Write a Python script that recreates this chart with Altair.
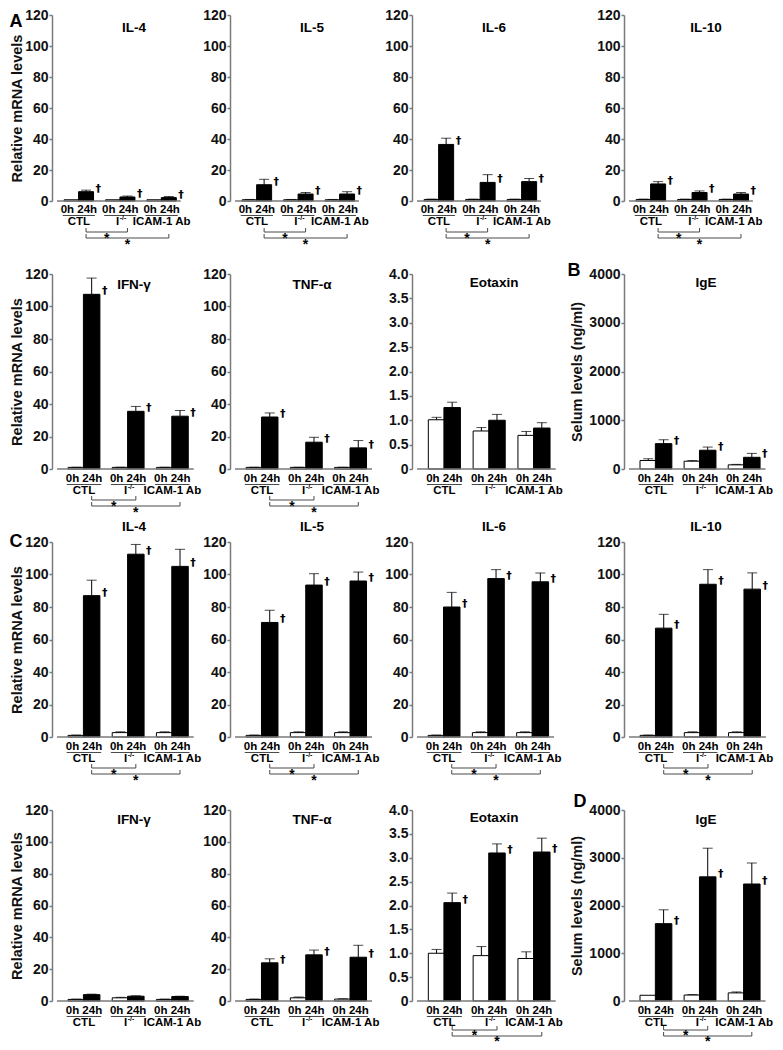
import altair as alt
import pandas as pd

FONT = "Liberation Sans, Arial, sans-serif"
DFONT = "DejaVu Sans, Liberation Sans, sans-serif"
GROUPS = ["CTL", "I", "ICAM-1 Ab"]
TIMES = ["0h", "24h"]

# ---- values (mean = m, top of error bar = t) ----
A_IL4 = dict(m0=[0.8, 0.8, 0.8], t0=[0.8, 0.8, 0.8], m24=[6.0, 2.6, 2.2], t24=[7.0, 3.2, 2.9])
A_IL5 = dict(m0=[0.8, 0.8, 0.8], t0=[1.0, 1.0, 1.0], m24=[10.5, 4.5, 4.5], t24=[14.0, 5.5, 6.0])
A_IL6 = dict(m0=[1.0, 1.0, 1.0], t0=[1.2, 1.2, 1.2], m24=[36.5, 12.0, 12.5], t24=[40.5, 17.0, 14.5])
A_IL10 = dict(m0=[1.0, 1.0, 1.0], t0=[1.2, 1.2, 1.2], m24=[11.0, 5.5, 4.5], t24=[12.5, 6.5, 5.5])
A_IFN = dict(m0=[1.0, 1.0, 1.0], t0=[1.1, 1.1, 1.1], m24=[107.5, 35.5, 32.5], t24=[117.5, 38.5, 36.0])
A_TNF = dict(m0=[1.0, 1.0, 1.0], t0=[1.1, 1.1, 1.1], m24=[32.0, 16.5, 13.0], t24=[34.5, 19.5, 17.5])
A_EOT = dict(m0=[1.01, 0.78, 0.69], t0=[1.06, 0.85, 0.77], m24=[1.26, 1.00, 0.84], t24=[1.37, 1.12, 0.95])
B_IGE = dict(m0=[175, 160, 85], t0=[210, 175, 95], m24=[520, 385, 240], t24=[600, 450, 320])
C_IL4 = dict(m0=[1.0, 2.7, 2.7], t0=[1.2, 3.2, 3.2], m24=[87.0, 112.5, 105.0], t24=[96.5, 118.5, 115.5])
C_IL5 = dict(m0=[1.0, 2.7, 2.7], t0=[1.2, 3.2, 3.2], m24=[70.5, 93.5, 96.0], t24=[78.0, 100.5, 101.5])
C_IL6 = dict(m0=[1.0, 2.7, 2.7], t0=[1.2, 3.2, 3.2], m24=[80.0, 97.5, 95.5], t24=[89.0, 103.0, 101.0])
C_IL10 = dict(m0=[1.0, 2.7, 2.7], t0=[1.2, 3.2, 3.2], m24=[67.0, 94.0, 91.0], t24=[75.5, 103.0, 101.0])
C_IFN = dict(m0=[1.0, 2.0, 1.0], t0=[1.2, 2.3, 1.2], m24=[4.0, 3.0, 2.8], t24=[4.3, 3.3, 3.0])
C_TNF = dict(m0=[1.0, 2.0, 1.2], t0=[1.2, 2.5, 1.4], m24=[24.0, 29.0, 27.5], t24=[26.5, 32.0, 35.0])
C_EOT = dict(m0=[1.00, 0.95, 0.89], t0=[1.08, 1.14, 1.03], m24=[2.06, 3.10, 3.12], t24=[2.26, 3.29, 3.41])
D_IGE = dict(m0=[120, 125, 170], t0=[120, 135, 190], m24=[1620, 2600, 2450], t24=[1910, 3200, 2890])

MRNA_TICKS = [0, 20, 40, 60, 80, 100, 120]
EOT_TICKS = [0, 0.5, 1.0, 1.5, 2.0, 2.5, 3.0, 3.5, 4.0]
IGE_TICKS = [0, 1000, 2000, 3000, 4000]

AXIS_GRAY = "#7a7a7a"
LINE_GRAY = "#4a4a4a"


def one(**kw):
    return pd.DataFrame([kw])


def make_panel(vals, title, kind, W, H, small, ytitle=None, letter=None,
               title_y=12, dagger=True, brackets=False, bk=(31, 37, 11)):
    if small:
        ppu, off, barw, axlen, lab = 44.5, 23.5, 15, 133, (9, 14.5, 21)
    else:
        ppu, off, barw, axlen, lab = 47.5, 29, 16.5, 147, (10, 15.5, 22)
    d = 0.174
    x0 = -off / ppu
    x1 = (W - off) / ppu
    xs = alt.Scale(domain=[x0, x1], nice=False, zero=False)
    if kind == "mrna":
        ymax, ticks = 120, MRNA_TICKS
        ax = dict(values=ticks, format="d")
        tx = -35
    elif kind == "eot":
        ymax, ticks = 4.0, EOT_TICKS
        ax = dict(values=ticks, labelExpr="datum.value == 0 ? '0' : format(datum.value, '.1f')")
        tx = -35
    else:
        ymax, ticks = 4000, IGE_TICKS
        ax = dict(values=ticks, format="d")
        tx = -47
    ys = alt.Scale(domain=[0, ymax], nice=False, zero=True)
    if ytitle:
        ax.update(title=ytitle, titleX=tx, titleY=H / 2, titleAngle=270,
                  titleBaseline="middle", titleAlign="center")
    else:
        ax.update(title=None)
    yaxis = alt.Axis(**ax)

    def Y(field):
        return alt.Y(field, scale=ys, axis=yaxis)

    rows = []
    for g in range(3):
        rows.append(dict(x=g - d, v=vals["m0"][g], e=vals["t0"][g], t=TIMES[0]))
        rows.append(dict(x=g + d, v=vals["m24"][g], e=vals["t24"][g], t=TIMES[1]))
    df = pd.DataFrame(rows)
    X = alt.X("x:Q", scale=xs, axis=None)

    layers = []
    # bars
    layers.append(
        alt.Chart(df).mark_bar(size=barw, stroke="black", strokeWidth=1, orient="vertical")
        .encode(x=X, y=Y("v:Q"),
                color=alt.Color("t:N", scale=alt.Scale(domain=TIMES, range=["white", "black"]), legend=None))
    )
    # x axis baseline
    layers.append(
        alt.Chart(one(a=x0, b=x0 + axlen / ppu, z=0)).mark_rule(color=AXIS_GRAY, strokeWidth=1.5)
        .encode(x=alt.X("a:Q", scale=xs, axis=None), x2="b:Q", y=Y("z:Q"))
    )
    err = df[df.e > df.v]
    layers.append(
        alt.Chart(err).mark_rule(color="black", strokeWidth=1)
        .encode(x=X, y=Y("v:Q"), y2="e:Q")
    )
    layers.append(
        alt.Chart(err).mark_tick(orient="horizontal", size=10, thickness=1, color="black")
        .encode(x=X, y=Y("e:Q"))
    )
    if dagger:
        dg = df[df.t == "24h"].copy()
        dg["s"] = "\u2020"
        layers.append(
            alt.Chart(dg).mark_text(align="left", baseline="middle", dx=barw / 2 + 2, dy=-3,
                                    fontSize=11, fontWeight="bold", font=DFONT, color="black")
            .encode(x=X, y=Y("v:Q"), text="s:N")
        )
    # "0h 24h" labels, underline, group labels
    gdf = pd.DataFrame(dict(g=[0, 1, 2], lab=["0h 24h"] * 3, a=[-0.39, 0.61, 1.61], b=[0.39, 1.39, 2.39]))
    G = alt.X("g:Q", scale=xs, axis=None)
    layers.append(
        alt.Chart(gdf).mark_text(baseline="middle", fontSize=11.5, fontWeight="bold", font=FONT, color="black")
        .encode(x=G, y=alt.value(H + lab[0]), text="lab:N")
    )
    layers.append(
        alt.Chart(gdf).mark_rule(color=LINE_GRAY, strokeWidth=1)
        .encode(x=alt.X("a:Q", scale=xs, axis=None), x2="b:Q", y=alt.value(H + lab[1]))
    )
    glab = pd.DataFrame(dict(g=[0, 2], lab=[GROUPS[0], GROUPS[2]]))
    layers.append(
        alt.Chart(glab).mark_text(baseline="middle", fontSize=11.5, fontWeight="bold", font=FONT, color="black")
        .encode(x=G, y=alt.value(H + lab[2]), text="lab:N")
    )
    ilab = pd.DataFrame(dict(g=[1], lab=[GROUPS[1]], sup=["-/-"]))
    layers.append(
        alt.Chart(ilab).mark_text(align="right", baseline="middle", dx=-1, fontSize=11.5, fontWeight="bold",
                                  font=FONT, color="black")
        .encode(x=G, y=alt.value(H + lab[2]), text="lab:N")
    )
    layers.append(
        alt.Chart(ilab).mark_text(align="left", baseline="middle", dx=-0.5, dy=-4, fontSize=7, fontWeight="bold",
                                  font=FONT, color="black")
        .encode(x=G, y=alt.value(H + lab[2]), text="sup:N")
    )
    if brackets:
        for k, tgt in enumerate([1, 2]):
            yl = H + bk[k]
            bdf = one(a=d, b=tgt + d, m=(tgt / 2) + d, s="*")
            layers.append(
                alt.Chart(bdf).mark_rule(color=LINE_GRAY, strokeWidth=1)
                .encode(x=alt.X("a:Q", scale=xs, axis=None), x2="b:Q", y=alt.value(yl))
            )
            tdf = pd.DataFrame(dict(p=[d, tgt + d]))
            layers.append(
                alt.Chart(tdf).mark_rule(color=LINE_GRAY, strokeWidth=1)
                .encode(x=alt.X("p:Q", scale=xs, axis=None), y=alt.value(yl - 4), y2=alt.value(yl))
            )
            layers.append(
                alt.Chart(bdf).mark_text(baseline="alphabetic", fontSize=14, fontWeight="bold", font=FONT,
                                         color="black")
                .encode(x=alt.X("m:Q", scale=xs, axis=None), y=alt.value(yl + bk[2]), text="s:N")
            )
    # panel title
    layers.append(
        alt.Chart(one(s=title)).mark_text(baseline="middle", fontSize=13.5, fontWeight="bold", font=FONT,
                                          color="black")
        .encode(x=alt.value(82), y=alt.value(title_y), text="s:N")
    )
    if letter:
        lt, lx, ly = letter
        layers.append(
            alt.Chart(one(s=lt)).mark_text(baseline="middle", fontSize=18, fontWeight="bold", font=FONT,
                                           color="black")
            .encode(x=alt.value(lx), y=alt.value(ly), text="s:N")
        )
    return alt.layer(*layers).properties(width=W, height=H)


YT = "Relative mRNA levels"
ST = "Selum levels (ng/ml)"
H1, H2, H3, H4 = 186, 195, 195, 191
LOW = (29, 35, 10)

panels = [
    make_panel(A_IL4, "IL-4", "mrna", 143, H1, True, ytitle=YT, letter=("A", -36, 7), title_y=13, brackets=True),
    make_panel(A_IL5, "IL-5", "mrna", 147, H1, True, title_y=13, brackets=True),
    make_panel(A_IL6, "IL-6", "mrna", 148, H1, True, title_y=13, brackets=True),
    make_panel(A_IL10, "IL-10", "mrna", 146, H1, True, title_y=13, brackets=True),

    make_panel(A_IFN, "IFN-\u03b3", "mrna", 143, H2, False, ytitle=YT, title_y=11, brackets=True),
    make_panel(A_TNF, "TNF-\u03b1", "mrna", 147, H2, False, title_y=11, brackets=True),
    make_panel(A_EOT, "Eotaxin", "eot", 177, H2, False, title_y=9, dagger=False),
    make_panel(B_IGE, "IgE", "ige", 140, H2, False, ytitle=ST, letter=("B", -50, -3), title_y=9),

    make_panel(C_IL4, "IL-4", "mrna", 143, H3, False, ytitle=YT, letter=("C", -36, 0), title_y=-15, brackets=True),
    make_panel(C_IL5, "IL-5", "mrna", 147, H3, False, title_y=-15, brackets=True),
    make_panel(C_IL6, "IL-6", "mrna", 148, H3, False, title_y=-15, brackets=True),
    make_panel(C_IL10, "IL-10", "mrna", 146, H3, False, title_y=-15, brackets=True),

    make_panel(C_IFN, "IFN-\u03b3", "mrna", 143, H4, False, ytitle=YT, title_y=10, dagger=False),
    make_panel(C_TNF, "TNF-\u03b1", "mrna", 147, H4, False, title_y=10),
    make_panel(C_EOT, "Eotaxin", "eot", 177, H4, False, title_y=8, brackets=True, bk=LOW),
    make_panel(D_IGE, "IgE", "ige", 140, H4, False, ytitle=ST, letter=("D", -44, -8), title_y=10, brackets=True,
               bk=LOW),
]

chart = alt.concat(
    *panels, columns=4, spacing=alt.RowColnumber(row=73, column=35), bounds="flush", align="none"
).properties(padding=0).configure_view(stroke=None).configure_axis(
    grid=False,
    labelFont=FONT, labelFontWeight="bold", labelFontSize=14, labelColor="#111111", labelPadding=1,
    domainColor=AXIS_GRAY, domainWidth=1.5, tickColor=AXIS_GRAY, tickWidth=1.5, tickSize=3,
    titleFont=FONT, titleFontSize=14.5, titleFontWeight="bold", titleColor="#111111",
)

chart.save("out.html", embed_options={"renderer": "svg", "actions": False})
